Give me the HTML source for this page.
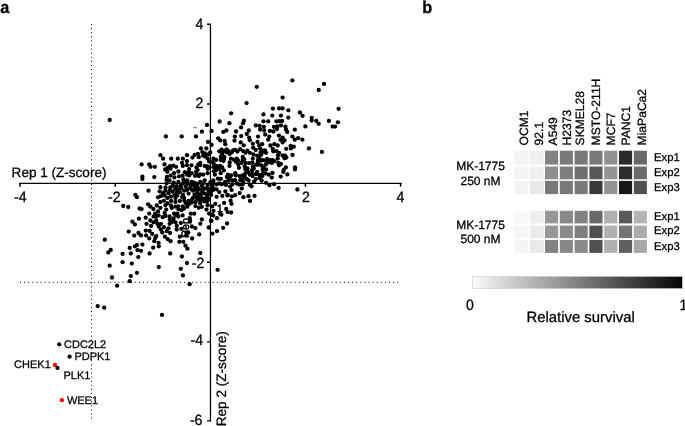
<!DOCTYPE html>
<html><head><meta charset="utf-8"><title>figure</title>
<style>
html,body{margin:0;padding:0;background:#fff;}
svg{display:block;font-family:"Liberation Sans",sans-serif;text-rendering:geometricPrecision;will-change:transform;}
text{stroke:#000;stroke-width:0.28px;}
text.hb{stroke-width:0.55px;}
</style></head><body>
<svg width="685" height="426" viewBox="0 0 685 426">
<rect width="685" height="426" fill="#fff"/>
<text transform="translate(0.3,13.2) scale(1,1.05)" font-size="16.3" font-weight="bold">a</text>
<text transform="translate(422.3,13.1) scale(1,1.05)" font-size="16.3" font-weight="bold">b</text>
<!-- dotted guides -->
<g stroke="#000" stroke-width="1" stroke-dasharray="1 3.1" fill="none">
<line x1="91.5" y1="24" x2="91.5" y2="420"/>
<line x1="20" y1="282.3" x2="400" y2="282.3"/>
</g>
<!-- axes -->
<g stroke="#000" stroke-width="1.25" fill="none">
<line x1="19.1" y1="183.4" x2="401.6" y2="183.4"/>
<line x1="210.45" y1="23.7" x2="210.45" y2="421.5"/>
<path stroke-width="1.5" d="M20 183v3.8M115.2 183v3.8M305.4 183v3.8M400.6 183v3.8"/>
<path stroke-width="1.4" d="M207.1 24.3h3.5M207.1 104h3.5M207.1 262.3h3.5M207.1 341.9h3.5M207.1 420.9h3.5"/>
</g>
<g font-size="10.8" fill="#000">
<text class="hb" x="216.8" y="211.8">1</text>
<text class="hb" transform="translate(189.4,237.8) rotate(-90)">Rep</text>
</g>
<line x1="193.3" y1="127.7" x2="196.6" y2="127.7" stroke="#333" stroke-width="0.8"/>
<g font-size="14.2">
<text transform="translate(20.3,202.1) scale(1,1.05)" text-anchor="middle">-4</text><text transform="translate(114.4,202.1) scale(1,1.05)" text-anchor="middle">-2</text><text transform="translate(305.9,202.1) scale(1,1.05)" text-anchor="middle">2</text><text transform="translate(400.5,202.1) scale(1,1.05)" text-anchor="middle">4</text>
<text transform="translate(203.3,28.8) scale(1,1.05)" text-anchor="end">4</text><text transform="translate(203.3,107.8) scale(1,1.05)" text-anchor="end">2</text><text transform="translate(204.3,267.5) scale(1,1.05)" text-anchor="end">-2</text><text transform="translate(203.1,344.5) scale(1,1.05)" text-anchor="end">-4</text><text transform="translate(202.5,424.8) scale(1,1.05)" text-anchor="end">-6</text>
</g>
<text x="11.6" y="177.2" font-size="13.55">Rep 1 (Z-score)</text>
<text transform="translate(225.8,426.3) rotate(-90)" font-size="13.6">Rep 2 (Z-score)</text>
<g fill="#000"><circle cx="292.4" cy="80.4" r="2.15"/><circle cx="324.0" cy="83.9" r="2.15"/><circle cx="318.7" cy="90.0" r="2.15"/><circle cx="256.8" cy="86.8" r="2.15"/><circle cx="282.6" cy="97.6" r="2.15"/><circle cx="246.6" cy="103.1" r="2.15"/><circle cx="338.6" cy="108.8" r="2.15"/><circle cx="272.9" cy="108.6" r="2.15"/><circle cx="279.1" cy="108.4" r="2.15"/><circle cx="282.6" cy="108.4" r="2.15"/><circle cx="288.3" cy="110.3" r="2.15"/><circle cx="299.9" cy="112.5" r="2.15"/><circle cx="231.1" cy="113.3" r="2.15"/><circle cx="263.5" cy="114.4" r="2.15"/><circle cx="272.3" cy="115.6" r="2.15"/><circle cx="280.9" cy="115.6" r="2.15"/><circle cx="302.6" cy="115.8" r="2.15"/><circle cx="288.3" cy="117.6" r="2.15"/><circle cx="311.8" cy="117.8" r="2.15"/><circle cx="311.6" cy="120.5" r="2.15"/><circle cx="316.3" cy="120.9" r="2.15"/><circle cx="318.7" cy="123.8" r="2.15"/><circle cx="328.9" cy="120.9" r="2.15"/><circle cx="337.9" cy="122.3" r="2.15"/><circle cx="332.6" cy="126.6" r="2.15"/><circle cx="335.1" cy="126.6" r="2.15"/><circle cx="219.6" cy="121.5" r="2.15"/><circle cx="229.4" cy="123.2" r="2.15"/><circle cx="243.9" cy="120.7" r="2.15"/><circle cx="243.1" cy="123.2" r="2.15"/><circle cx="263.5" cy="121.3" r="2.15"/><circle cx="268.2" cy="121.3" r="2.15"/><circle cx="282.1" cy="120.9" r="2.15"/><circle cx="255.8" cy="125.4" r="2.15"/><circle cx="259.7" cy="125.8" r="2.15"/><circle cx="263.8" cy="126.8" r="2.15"/><circle cx="274.0" cy="126.8" r="2.15"/><circle cx="277.4" cy="126.4" r="2.15"/><circle cx="280.9" cy="125.4" r="2.15"/><circle cx="285.4" cy="126.6" r="2.15"/><circle cx="241.1" cy="127.4" r="2.15"/><circle cx="305.4" cy="126.4" r="2.15"/><circle cx="211.6" cy="130.9" r="2.15"/><circle cx="226.4" cy="130.5" r="2.15"/><circle cx="223.3" cy="131.9" r="2.15"/><circle cx="236.0" cy="131.5" r="2.15"/><circle cx="248.8" cy="130.5" r="2.15"/><circle cx="260.1" cy="129.5" r="2.15"/><circle cx="264.2" cy="130.5" r="2.15"/><circle cx="269.9" cy="130.9" r="2.15"/><circle cx="273.4" cy="131.5" r="2.15"/><circle cx="277.0" cy="129.1" r="2.15"/><circle cx="286.0" cy="129.5" r="2.15"/><circle cx="287.3" cy="131.9" r="2.15"/><circle cx="294.8" cy="129.7" r="2.15"/><circle cx="246.8" cy="134.0" r="2.15"/><circle cx="234.9" cy="136.6" r="2.15"/><circle cx="249.2" cy="137.7" r="2.15"/><circle cx="258.0" cy="136.6" r="2.15"/><circle cx="265.2" cy="134.6" r="2.15"/><circle cx="269.3" cy="136.6" r="2.15"/><circle cx="278.9" cy="135.6" r="2.15"/><circle cx="282.6" cy="137.7" r="2.15"/><circle cx="292.4" cy="136.6" r="2.15"/><circle cx="218.2" cy="138.3" r="2.15"/><circle cx="220.2" cy="140.3" r="2.15"/><circle cx="224.7" cy="140.9" r="2.15"/><circle cx="234.5" cy="140.7" r="2.15"/><circle cx="240.7" cy="142.4" r="2.15"/><circle cx="249.9" cy="140.3" r="2.15"/><circle cx="252.9" cy="143.8" r="2.15"/><circle cx="268.2" cy="139.7" r="2.15"/><circle cx="280.5" cy="139.7" r="2.15"/><circle cx="284.6" cy="140.3" r="2.15"/><circle cx="282.6" cy="142.4" r="2.15"/><circle cx="294.8" cy="139.7" r="2.15"/><circle cx="302.4" cy="139.7" r="2.15"/><circle cx="225.3" cy="144.2" r="2.15"/><circle cx="243.7" cy="145.4" r="2.15"/><circle cx="262.1" cy="144.2" r="2.15"/><circle cx="259.1" cy="145.4" r="2.15"/><circle cx="274.4" cy="144.2" r="2.15"/><circle cx="211.6" cy="144.8" r="2.15"/><circle cx="321.9" cy="151.9" r="2.15"/><circle cx="308.9" cy="148.4" r="2.15"/><circle cx="292.5" cy="154.9" r="2.15"/><circle cx="295.0" cy="167.4" r="2.15"/><circle cx="295.0" cy="169.4" r="2.15"/><circle cx="286.2" cy="148.8" r="2.15"/><circle cx="287.4" cy="174.4" r="2.15"/><circle cx="297.4" cy="189.5" r="2.15"/><circle cx="278.6" cy="187.8" r="2.15"/><circle cx="274.1" cy="184.2" r="2.15"/><circle cx="269.4" cy="185.2" r="2.15"/><circle cx="280.7" cy="176.6" r="2.15"/><circle cx="283.3" cy="171.9" r="2.15"/><circle cx="285.8" cy="167.4" r="2.15"/><circle cx="283.7" cy="169.9" r="2.15"/><circle cx="272.5" cy="172.9" r="2.15"/><circle cx="254.5" cy="195.8" r="2.15"/><circle cx="250.0" cy="200.9" r="2.15"/><circle cx="109.7" cy="120.0" r="2.15"/><circle cx="165.9" cy="136.4" r="2.15"/><circle cx="181.7" cy="136.4" r="2.15"/><circle cx="196.0" cy="136.4" r="2.15"/><circle cx="201.9" cy="131.7" r="2.15"/><circle cx="207.0" cy="124.9" r="2.15"/><circle cx="208.0" cy="141.9" r="2.15"/><circle cx="200.9" cy="148.4" r="2.15"/><circle cx="206.4" cy="148.4" r="2.15"/><circle cx="160.4" cy="155.2" r="2.15"/><circle cx="163.1" cy="158.7" r="2.15"/><circle cx="171.2" cy="158.7" r="2.15"/><circle cx="177.8" cy="158.7" r="2.15"/><circle cx="182.9" cy="158.7" r="2.15"/><circle cx="187.0" cy="155.2" r="2.15"/><circle cx="194.7" cy="154.8" r="2.15"/><circle cx="202.3" cy="152.1" r="2.15"/><circle cx="141.6" cy="164.4" r="2.15"/><circle cx="149.2" cy="164.4" r="2.15"/><circle cx="150.6" cy="166.8" r="2.15"/><circle cx="154.9" cy="166.8" r="2.15"/><circle cx="164.5" cy="164.4" r="2.15"/><circle cx="165.1" cy="169.5" r="2.15"/><circle cx="142.4" cy="176.6" r="2.15"/><circle cx="142.4" cy="179.1" r="2.15"/><circle cx="154.3" cy="177.1" r="2.15"/><circle cx="176.1" cy="166.8" r="2.15"/><circle cx="178.4" cy="171.5" r="2.15"/><circle cx="170.6" cy="175.6" r="2.15"/><circle cx="104.8" cy="239.7" r="2.15"/><circle cx="108.3" cy="252.4" r="2.15"/><circle cx="110.7" cy="249.9" r="2.15"/><circle cx="109.7" cy="265.7" r="2.15"/><circle cx="122.6" cy="253.8" r="2.15"/><circle cx="122.6" cy="262.2" r="2.15"/><circle cx="131.8" cy="263.6" r="2.15"/><circle cx="130.8" cy="253.4" r="2.15"/><circle cx="129.7" cy="247.9" r="2.15"/><circle cx="128.7" cy="231.6" r="2.15"/><circle cx="134.2" cy="235.6" r="2.15"/><circle cx="132.4" cy="221.7" r="2.15"/><circle cx="134.9" cy="224.4" r="2.15"/><circle cx="123.2" cy="206.0" r="2.15"/><circle cx="128.3" cy="207.0" r="2.15"/><circle cx="135.3" cy="194.8" r="2.15"/><circle cx="136.9" cy="197.2" r="2.15"/><circle cx="148.5" cy="190.7" r="2.15"/><circle cx="139.6" cy="208.5" r="2.15"/><circle cx="141.6" cy="209.1" r="2.15"/><circle cx="138.9" cy="218.7" r="2.15"/><circle cx="138.5" cy="233.0" r="2.15"/><circle cx="141.0" cy="235.4" r="2.15"/><circle cx="146.1" cy="235.4" r="2.15"/><circle cx="142.4" cy="244.6" r="2.15"/><circle cx="136.9" cy="245.2" r="2.15"/><circle cx="134.9" cy="246.3" r="2.15"/><circle cx="141.0" cy="250.8" r="2.15"/><circle cx="138.3" cy="257.1" r="2.15"/><circle cx="149.6" cy="253.4" r="2.15"/><circle cx="153.2" cy="247.7" r="2.15"/><circle cx="158.8" cy="246.3" r="2.15"/><circle cx="158.8" cy="267.1" r="2.15"/><circle cx="170.2" cy="253.4" r="2.15"/><circle cx="181.9" cy="256.5" r="2.15"/><circle cx="180.8" cy="268.8" r="2.15"/><circle cx="187.0" cy="263.0" r="2.15"/><circle cx="200.3" cy="253.0" r="2.15"/><circle cx="187.4" cy="248.7" r="2.15"/><circle cx="185.5" cy="245.7" r="2.15"/><circle cx="183.3" cy="241.8" r="2.15"/><circle cx="179.4" cy="241.8" r="2.15"/><circle cx="179.8" cy="236.7" r="2.15"/><circle cx="170.6" cy="241.2" r="2.15"/><circle cx="167.6" cy="239.1" r="2.15"/><circle cx="164.9" cy="236.7" r="2.15"/><circle cx="154.3" cy="241.2" r="2.15"/><circle cx="155.3" cy="238.1" r="2.15"/><circle cx="156.3" cy="236.1" r="2.15"/><circle cx="152.2" cy="234.0" r="2.15"/><circle cx="149.6" cy="230.9" r="2.15"/><circle cx="146.5" cy="223.8" r="2.15"/><circle cx="145.7" cy="217.7" r="2.15"/><circle cx="217.6" cy="269.8" r="2.15"/><circle cx="212.5" cy="233.6" r="2.15"/><circle cx="199.2" cy="234.4" r="2.15"/><circle cx="192.1" cy="238.5" r="2.15"/><circle cx="136.9" cy="272.8" r="2.15"/><circle cx="248.5" cy="196.2" r="2.15"/><circle cx="243.4" cy="197.2" r="2.15"/><circle cx="239.7" cy="193.1" r="2.15"/><circle cx="235.2" cy="195.2" r="2.15"/><circle cx="211.1" cy="220.7" r="2.15"/><circle cx="208.7" cy="227.5" r="2.15"/><circle cx="209.1" cy="213.6" r="2.15"/><circle cx="212.2" cy="214.6" r="2.15"/><circle cx="207.0" cy="201.7" r="2.15"/><circle cx="211.1" cy="194.8" r="2.15"/><circle cx="227.5" cy="194.8" r="2.15"/><circle cx="231.6" cy="190.1" r="2.15"/><circle cx="225.4" cy="191.5" r="2.15"/><circle cx="219.3" cy="192.1" r="2.15"/><circle cx="241.8" cy="188.6" r="2.15"/><circle cx="207.0" cy="196.2" r="2.15"/><circle cx="182.9" cy="275.4" r="2.15"/><circle cx="189.6" cy="284.2" r="2.15"/><circle cx="112.0" cy="277.5" r="2.15"/><circle cx="117.1" cy="285.7" r="2.15"/><circle cx="130.8" cy="276.1" r="2.15"/><circle cx="129.7" cy="281.2" r="2.15"/><circle cx="97.7" cy="306.1" r="2.15"/><circle cx="104.2" cy="307.7" r="2.15"/><circle cx="162.0" cy="314.9" r="2.15"/><circle cx="182.0" cy="162.8" r="2.15"/><circle cx="186.9" cy="161.1" r="2.15"/><circle cx="186.9" cy="165.2" r="2.15"/><circle cx="174.4" cy="177.4" r="2.15"/><circle cx="179.1" cy="176.3" r="2.15"/><circle cx="182.6" cy="175.7" r="2.15"/><circle cx="166.6" cy="183.3" r="2.15"/><circle cx="165.6" cy="187.4" r="2.15"/><circle cx="170.3" cy="187.4" r="2.15"/><circle cx="173.8" cy="182.7" r="2.15"/><circle cx="176.7" cy="186.2" r="2.15"/><circle cx="163.1" cy="193.2" r="2.15"/><circle cx="158.0" cy="197.3" r="2.15"/><circle cx="168.5" cy="193.2" r="2.15"/><circle cx="170.9" cy="196.7" r="2.15"/><circle cx="167.4" cy="197.9" r="2.15"/><circle cx="172.6" cy="191.5" r="2.15"/><circle cx="148.1" cy="204.3" r="2.15"/><circle cx="150.4" cy="206.7" r="2.15"/><circle cx="153.4" cy="209.0" r="2.15"/><circle cx="156.9" cy="205.5" r="2.15"/><circle cx="160.4" cy="202.0" r="2.15"/><circle cx="163.9" cy="200.8" r="2.15"/><circle cx="166.2" cy="209.6" r="2.15"/><circle cx="160.4" cy="207.8" r="2.15"/><circle cx="158.0" cy="211.4" r="2.15"/><circle cx="155.1" cy="213.7" r="2.15"/><circle cx="158.6" cy="215.4" r="2.15"/><circle cx="162.7" cy="217.2" r="2.15"/><circle cx="165.6" cy="216.0" r="2.15"/><circle cx="150.4" cy="220.5" r="2.15"/><circle cx="151.0" cy="225.9" r="2.15"/><circle cx="156.3" cy="220.7" r="2.15"/><circle cx="157.4" cy="223.6" r="2.15"/><circle cx="158.6" cy="226.5" r="2.15"/><circle cx="163.9" cy="227.1" r="2.15"/><circle cx="160.9" cy="229.5" r="2.15"/><circle cx="168.5" cy="228.3" r="2.15"/><circle cx="145.8" cy="230.6" r="2.15"/><circle cx="158.6" cy="242.9" r="2.15"/><circle cx="170.1" cy="233.0" r="2.15"/><circle cx="176.7" cy="225.9" r="2.15"/><circle cx="176.7" cy="229.5" r="2.15"/><circle cx="180.8" cy="223.0" r="2.15"/><circle cx="181.4" cy="228.9" r="2.15"/><circle cx="186.6" cy="232.4" r="2.15"/><circle cx="195.4" cy="228.1" r="2.15"/><circle cx="191.9" cy="226.5" r="2.15"/><circle cx="201.8" cy="219.5" r="2.15"/><circle cx="182.6" cy="215.4" r="2.15"/><circle cx="190.7" cy="213.7" r="2.15"/><circle cx="194.2" cy="213.7" r="2.15"/><circle cx="195.4" cy="206.1" r="2.15"/><circle cx="200.1" cy="203.2" r="2.15"/><circle cx="206.5" cy="209.6" r="2.15"/><circle cx="187.2" cy="206.7" r="2.15"/><circle cx="181.4" cy="210.2" r="2.15"/><circle cx="175.5" cy="206.7" r="2.15"/><circle cx="170.9" cy="205.5" r="2.15"/><circle cx="167.4" cy="203.2" r="2.15"/><circle cx="279.1" cy="121.2" r="2.15"/><circle cx="241.2" cy="136.1" r="2.15"/><circle cx="298.1" cy="138.2" r="2.15"/><circle cx="270.4" cy="145.5" r="2.15"/><circle cx="277.7" cy="145.5" r="2.15"/><circle cx="290.8" cy="148.4" r="2.15"/><circle cx="219.3" cy="151.3" r="2.15"/><circle cx="222.2" cy="154.2" r="2.15"/><circle cx="235.3" cy="149.9" r="2.15"/><circle cx="245.5" cy="152.8" r="2.15"/><circle cx="249.9" cy="152.8" r="2.15"/><circle cx="255.8" cy="149.9" r="2.15"/><circle cx="260.1" cy="148.4" r="2.15"/><circle cx="266.0" cy="152.8" r="2.15"/><circle cx="273.3" cy="151.3" r="2.15"/><circle cx="279.1" cy="152.8" r="2.15"/><circle cx="213.4" cy="158.6" r="2.15"/><circle cx="220.7" cy="160.1" r="2.15"/><circle cx="230.9" cy="158.6" r="2.15"/><circle cx="236.8" cy="158.6" r="2.15"/><circle cx="242.6" cy="160.1" r="2.15"/><circle cx="252.8" cy="158.6" r="2.15"/><circle cx="257.2" cy="155.7" r="2.15"/><circle cx="263.1" cy="160.1" r="2.15"/><circle cx="270.4" cy="160.1" r="2.15"/><circle cx="277.7" cy="158.6" r="2.15"/><circle cx="285.0" cy="155.7" r="2.15"/><circle cx="216.4" cy="165.9" r="2.15"/><circle cx="222.2" cy="167.4" r="2.15"/><circle cx="229.5" cy="165.9" r="2.15"/><circle cx="238.2" cy="164.5" r="2.15"/><circle cx="245.5" cy="163.0" r="2.15"/><circle cx="252.8" cy="166.5" r="2.15"/><circle cx="258.7" cy="164.5" r="2.15"/><circle cx="263.1" cy="167.4" r="2.15"/><circle cx="266.0" cy="169.4" r="2.15"/><circle cx="271.8" cy="163.0" r="2.15"/><circle cx="279.1" cy="165.3" r="2.15"/><circle cx="214.9" cy="174.7" r="2.15"/><circle cx="220.7" cy="173.2" r="2.15"/><circle cx="228.0" cy="174.7" r="2.15"/><circle cx="235.3" cy="173.2" r="2.15"/><circle cx="239.7" cy="176.1" r="2.15"/><circle cx="245.5" cy="173.2" r="2.15"/><circle cx="249.9" cy="174.7" r="2.15"/><circle cx="257.2" cy="171.8" r="2.15"/><circle cx="263.1" cy="173.2" r="2.15"/><circle cx="268.9" cy="174.7" r="2.15"/><circle cx="271.8" cy="177.6" r="2.15"/><circle cx="213.4" cy="180.5" r="2.15"/><circle cx="219.3" cy="183.4" r="2.15"/><circle cx="225.1" cy="182.0" r="2.15"/><circle cx="232.4" cy="180.5" r="2.15"/><circle cx="236.8" cy="183.4" r="2.15"/><circle cx="242.6" cy="179.1" r="2.15"/><circle cx="248.5" cy="180.5" r="2.15"/><circle cx="255.8" cy="179.1" r="2.15"/><circle cx="261.6" cy="180.5" r="2.15"/><circle cx="266.0" cy="182.8" r="2.15"/><circle cx="216.4" cy="189.3" r="2.15"/><circle cx="198.8" cy="157.2" r="2.15"/><circle cx="203.2" cy="155.7" r="2.15"/><circle cx="207.6" cy="158.6" r="2.15"/><circle cx="209.1" cy="161.5" r="2.15"/><circle cx="182.8" cy="165.9" r="2.15"/><circle cx="191.5" cy="165.3" r="2.15"/><circle cx="196.5" cy="167.4" r="2.15"/><circle cx="200.3" cy="163.0" r="2.15"/><circle cx="204.7" cy="165.9" r="2.15"/><circle cx="207.6" cy="168.8" r="2.15"/><circle cx="174.0" cy="173.2" r="2.15"/><circle cx="187.2" cy="174.7" r="2.15"/><circle cx="191.5" cy="173.2" r="2.15"/><circle cx="195.9" cy="171.8" r="2.15"/><circle cx="198.8" cy="176.1" r="2.15"/><circle cx="203.2" cy="174.7" r="2.15"/><circle cx="207.6" cy="173.2" r="2.15"/><circle cx="169.6" cy="180.5" r="2.15"/><circle cx="178.4" cy="182.0" r="2.15"/><circle cx="182.8" cy="183.4" r="2.15"/><circle cx="187.2" cy="180.5" r="2.15"/><circle cx="191.5" cy="182.0" r="2.15"/><circle cx="195.9" cy="183.4" r="2.15"/><circle cx="200.3" cy="182.0" r="2.15"/><circle cx="204.7" cy="180.5" r="2.15"/><circle cx="185.7" cy="186.4" r="2.15"/><circle cx="190.1" cy="187.8" r="2.15"/><circle cx="207.6" cy="184.9" r="2.15"/><circle cx="165.3" cy="190.7" r="2.15"/><circle cx="179.9" cy="192.2" r="2.15"/><circle cx="184.2" cy="190.7" r="2.15"/><circle cx="188.6" cy="193.6" r="2.15"/><circle cx="193.0" cy="190.7" r="2.15"/><circle cx="197.4" cy="192.2" r="2.15"/><circle cx="201.8" cy="189.3" r="2.15"/><circle cx="204.7" cy="193.6" r="2.15"/><circle cx="208.5" cy="190.7" r="2.15"/><circle cx="171.1" cy="200.9" r="2.15"/><circle cx="175.5" cy="198.0" r="2.15"/><circle cx="179.9" cy="200.9" r="2.15"/><circle cx="184.2" cy="198.0" r="2.15"/><circle cx="188.6" cy="200.9" r="2.15"/><circle cx="193.0" cy="198.0" r="2.15"/><circle cx="197.4" cy="199.5" r="2.15"/><circle cx="201.8" cy="198.0" r="2.15"/><circle cx="165.3" cy="205.3" r="2.15"/><circle cx="201.8" cy="206.8" r="2.15"/><circle cx="207.6" cy="205.3" r="2.15"/><circle cx="201.8" cy="185.8" r="2.15"/><circle cx="216.4" cy="184.4" r="2.15"/><circle cx="232.4" cy="184.4" r="2.15"/><circle cx="242.6" cy="184.4" r="2.15"/><circle cx="194.5" cy="194.6" r="2.15"/><circle cx="175.5" cy="201.9" r="2.15"/><circle cx="178.4" cy="209.2" r="2.15"/><circle cx="182.8" cy="206.3" r="2.15"/><circle cx="198.8" cy="207.7" r="2.15"/><circle cx="149.2" cy="213.6" r="2.15"/><circle cx="153.6" cy="216.5" r="2.15"/><circle cx="169.6" cy="216.5" r="2.15"/><circle cx="174.0" cy="213.6" r="2.15"/><circle cx="178.4" cy="216.5" r="2.15"/><circle cx="153.6" cy="222.3" r="2.15"/><circle cx="160.9" cy="223.8" r="2.15"/><circle cx="169.6" cy="223.8" r="2.15"/><circle cx="175.5" cy="222.3" r="2.15"/><circle cx="190.1" cy="220.9" r="2.15"/><circle cx="200.3" cy="223.8" r="2.15"/><circle cx="162.3" cy="232.6" r="2.15"/><circle cx="166.7" cy="231.1" r="2.15"/><circle cx="149.2" cy="238.4" r="2.15"/><circle cx="137.5" cy="250.1" r="2.15"/><circle cx="166.9" cy="176.9" r="2.15"/><circle cx="190.6" cy="184.8" r="2.15"/><circle cx="156.2" cy="216.7" r="2.15"/><circle cx="221.9" cy="184.2" r="2.15"/><circle cx="213.8" cy="171.3" r="2.15"/><circle cx="183.4" cy="179.5" r="2.15"/><circle cx="192.4" cy="157.6" r="2.15"/><circle cx="170.0" cy="166.1" r="2.15"/><circle cx="223.9" cy="170.4" r="2.15"/><circle cx="170.6" cy="168.7" r="2.15"/><circle cx="173.5" cy="218.4" r="2.15"/><circle cx="210.7" cy="192.2" r="2.15"/><circle cx="183.8" cy="208.7" r="2.15"/><circle cx="213.0" cy="187.9" r="2.15"/><circle cx="177.3" cy="213.6" r="2.15"/><circle cx="171.8" cy="208.0" r="2.15"/><circle cx="213.9" cy="167.3" r="2.15"/><circle cx="174.5" cy="194.9" r="2.15"/><circle cx="189.1" cy="169.1" r="2.15"/><circle cx="219.3" cy="169.3" r="2.15"/><circle cx="169.7" cy="190.5" r="2.15"/><circle cx="212.6" cy="162.1" r="2.15"/><circle cx="167.4" cy="171.8" r="2.15"/><circle cx="166.6" cy="179.7" r="2.15"/><circle cx="208.3" cy="193.6" r="2.15"/><circle cx="178.3" cy="206.3" r="2.15"/><circle cx="208.4" cy="154.4" r="2.15"/><circle cx="173.3" cy="165.7" r="2.15"/><circle cx="184.3" cy="200.8" r="2.15"/><circle cx="210.4" cy="182.1" r="2.15"/><circle cx="203.2" cy="183.3" r="2.15"/><circle cx="191.6" cy="202.6" r="2.15"/><circle cx="195.1" cy="175.8" r="2.15"/><circle cx="164.7" cy="213.0" r="2.15"/><circle cx="184.9" cy="172.2" r="2.15"/><circle cx="204.8" cy="153.5" r="2.15"/><circle cx="197.9" cy="154.0" r="2.15"/><circle cx="167.7" cy="167.9" r="2.15"/><circle cx="218.0" cy="178.7" r="2.15"/><circle cx="253.1" cy="147.8" r="2.15"/><circle cx="228.4" cy="151.1" r="2.15"/><circle cx="258.0" cy="159.7" r="2.15"/><circle cx="224.2" cy="151.0" r="2.15"/><circle cx="249.1" cy="163.2" r="2.15"/><circle cx="259.2" cy="175.0" r="2.15"/><circle cx="230.1" cy="186.6" r="2.15"/><circle cx="231.8" cy="152.3" r="2.15"/><circle cx="252.0" cy="170.2" r="2.15"/><circle cx="224.0" cy="158.9" r="2.15"/><circle cx="257.5" cy="141.9" r="2.15"/><circle cx="235.9" cy="161.7" r="2.15"/><circle cx="260.6" cy="152.6" r="2.15"/><circle cx="254.1" cy="181.6" r="2.15"/><circle cx="228.5" cy="180.7" r="2.15"/><circle cx="251.6" cy="186.3" r="2.15"/><circle cx="267.1" cy="158.9" r="2.15"/><circle cx="240.1" cy="149.2" r="2.15"/><circle cx="229.6" cy="177.5" r="2.15"/><circle cx="242.7" cy="156.9" r="2.15"/><circle cx="253.5" cy="154.5" r="2.15"/><circle cx="247.4" cy="168.3" r="2.15"/><circle cx="268.2" cy="162.4" r="2.15"/><circle cx="204.2" cy="201.3" r="2.15"/><circle cx="178.6" cy="189.3" r="2.15"/><circle cx="204.8" cy="188.5" r="2.15"/><circle cx="183.0" cy="194.8" r="2.15"/><circle cx="193.7" cy="185.2" r="2.15"/><circle cx="208.9" cy="199.0" r="2.15"/><circle cx="177.3" cy="195.4" r="2.15"/><circle cx="195.3" cy="202.2" r="2.15"/><circle cx="200.9" cy="194.3" r="2.15"/><circle cx="188.8" cy="204.3" r="2.15"/><circle cx="187.0" cy="189.9" r="2.15"/><circle cx="160.7" cy="196.2" r="2.15"/><circle cx="197.5" cy="187.3" r="2.15"/><circle cx="172.8" cy="185.8" r="2.15"/><circle cx="198.5" cy="195.6" r="2.15"/><circle cx="159.7" cy="191.3" r="2.15"/><circle cx="205.2" cy="198.8" r="2.15"/><circle cx="181.2" cy="188.1" r="2.15"/><circle cx="160.4" cy="187.2" r="2.15"/><circle cx="175.3" cy="188.8" r="2.15"/><circle cx="186.0" cy="203.3" r="2.15"/><circle cx="200.4" cy="200.4" r="2.15"/><circle cx="177.1" cy="192.2" r="2.15"/><circle cx="164.5" cy="195.5" r="2.15"/><circle cx="180.8" cy="185.4" r="2.15"/><circle cx="195.4" cy="189.3" r="2.15"/><circle cx="214.0" cy="164.2" r="2.15"/><circle cx="286.3" cy="157.5" r="2.15"/><circle cx="191.6" cy="189.5" r="2.15"/><circle cx="200.1" cy="174.4" r="2.15"/><circle cx="256.0" cy="174.0" r="2.15"/><circle cx="226.5" cy="152.3" r="2.15"/><circle cx="226.0" cy="185.0" r="2.15"/><circle cx="239.0" cy="167.8" r="2.15"/><circle cx="221.6" cy="149.7" r="2.15"/><circle cx="233.9" cy="159.7" r="2.15"/><circle cx="278.0" cy="155.2" r="2.15"/><circle cx="290.6" cy="146.0" r="2.15"/><circle cx="231.4" cy="175.3" r="2.15"/><circle cx="223.4" cy="161.1" r="2.15"/><circle cx="191.9" cy="199.7" r="2.15"/><circle cx="240.2" cy="180.1" r="2.15"/><circle cx="261.1" cy="160.5" r="2.15"/><circle cx="198.4" cy="164.3" r="2.15"/><circle cx="200.2" cy="197.0" r="2.15"/><circle cx="217.6" cy="167.6" r="2.15"/><circle cx="272.5" cy="160.2" r="2.15"/><circle cx="229.7" cy="162.5" r="2.15"/><circle cx="224.4" cy="157.1" r="2.15"/><circle cx="252.5" cy="176.0" r="2.15"/><circle cx="220.8" cy="157.0" r="2.15"/><circle cx="259.3" cy="156.9" r="2.15"/><circle cx="252.1" cy="173.5" r="2.15"/><circle cx="276.4" cy="121.3" r="2.15"/><circle cx="220.1" cy="165.8" r="2.15"/><circle cx="189.8" cy="218.2" r="2.15"/><circle cx="184.3" cy="182.2" r="2.15"/><circle cx="238.0" cy="160.5" r="2.15"/><circle cx="265.8" cy="164.6" r="2.15"/><circle cx="197.6" cy="170.1" r="2.15"/><circle cx="216.1" cy="170.3" r="2.15"/><circle cx="212.9" cy="190.2" r="2.15"/><circle cx="253.7" cy="168.5" r="2.15"/><circle cx="249.9" cy="184.7" r="2.15"/><circle cx="246.7" cy="178.9" r="2.15"/><circle cx="226.9" cy="177.0" r="2.15"/><circle cx="282.6" cy="155.5" r="2.15"/><circle cx="210.2" cy="152.5" r="2.15"/><circle cx="265.5" cy="160.7" r="2.15"/><circle cx="216.1" cy="159.9" r="2.15"/><circle cx="247.4" cy="150.7" r="2.15"/><circle cx="245.2" cy="169.0" r="2.15"/><circle cx="293.8" cy="146.7" r="2.15"/><circle cx="207.1" cy="166.3" r="2.15"/><circle cx="278.2" cy="162.9" r="2.15"/><circle cx="262.1" cy="150.4" r="2.15"/><circle cx="226.6" cy="149.3" r="2.15"/><circle cx="229.6" cy="153.9" r="2.15"/><circle cx="169.7" cy="219.8" r="2.15"/><circle cx="233.1" cy="150.3" r="2.15"/><circle cx="259.7" cy="178.0" r="2.15"/><circle cx="263.5" cy="151.7" r="2.15"/><circle cx="207.8" cy="188.5" r="2.15"/><circle cx="193.8" cy="182.7" r="2.15"/><circle cx="209.5" cy="167.2" r="2.15"/><circle cx="261.3" cy="154.7" r="2.15"/><circle cx="272.8" cy="148.8" r="2.15"/><circle cx="262.3" cy="175.9" r="2.15"/><circle cx="188.6" cy="172.4" r="2.15"/><circle cx="182.1" cy="197.1" r="2.15"/><circle cx="196.7" cy="197.1" r="2.15"/><circle cx="284.6" cy="158.3" r="2.15"/><circle cx="205.1" cy="156.4" r="2.15"/><circle cx="274.4" cy="161.1" r="2.15"/><circle cx="176.0" cy="215.3" r="2.15"/><circle cx="198.4" cy="189.5" r="2.15"/><circle cx="212.1" cy="184.6" r="2.15"/><circle cx="187.4" cy="183.7" r="2.15"/><circle cx="257.9" cy="161.6" r="2.15"/><circle cx="212.9" cy="182.5" r="2.15"/><circle cx="252.5" cy="162.5" r="2.15"/><circle cx="237.4" cy="151.6" r="2.15"/><circle cx="265.5" cy="173.5" r="2.15"/><circle cx="197.4" cy="184.5" r="2.15"/><circle cx="189.2" cy="175.4" r="2.15"/><circle cx="248.1" cy="171.8" r="2.15"/><circle cx="261.4" cy="165.3" r="2.15"/><circle cx="235.0" cy="180.2" r="2.15"/><circle cx="244.2" cy="159.2" r="2.15"/><circle cx="171.9" cy="222.1" r="2.15"/><circle cx="202.3" cy="191.5" r="2.15"/><circle cx="243.1" cy="151.1" r="2.15"/><circle cx="242.6" cy="175.3" r="2.15"/><circle cx="241.5" cy="163.0" r="2.15"/><circle cx="244.7" cy="166.3" r="2.15"/><circle cx="262.6" cy="169.8" r="2.15"/><circle cx="280.9" cy="163.9" r="2.15"/><circle cx="200.1" cy="165.2" r="2.15"/><circle cx="276.4" cy="151.1" r="2.15"/><circle cx="243.2" cy="182.0" r="2.15"/><circle cx="220.8" cy="178.9" r="2.15"/><circle cx="239.3" cy="184.7" r="2.15"/><circle cx="196.6" cy="174.4" r="2.15"/><circle cx="215.9" cy="168.4" r="2.15"/><circle cx="235.9" cy="175.4" r="2.15"/><circle cx="256.2" cy="164.8" r="2.15"/><circle cx="173.3" cy="220.7" r="2.15"/><circle cx="221.1" cy="151.8" r="2.15"/><circle cx="265.0" cy="150.4" r="2.15"/><circle cx="244.5" cy="176.1" r="2.15"/><circle cx="195.2" cy="186.8" r="2.15"/><circle cx="215.3" cy="203.8" r="2.15"/><circle cx="216.6" cy="196.8" r="2.15"/><circle cx="222.3" cy="195.9" r="2.15"/><circle cx="227.6" cy="195.4" r="2.15"/><circle cx="231.9" cy="196.3" r="2.15"/><circle cx="224.1" cy="202.9" r="2.15"/><circle cx="230.6" cy="200.7" r="2.15"/><circle cx="231.5" cy="203.8" r="2.15"/><circle cx="226.2" cy="209.0" r="2.15"/><circle cx="227.6" cy="212.1" r="2.15"/><circle cx="231.1" cy="212.5" r="2.15"/><circle cx="220.1" cy="213.8" r="2.15"/><circle cx="221.4" cy="214.7" r="2.15"/><circle cx="213.5" cy="210.8" r="2.15"/><circle cx="213.1" cy="215.6" r="2.15"/><circle cx="217.0" cy="218.2" r="2.15"/><circle cx="211.4" cy="220.8" r="2.15"/><circle cx="227.1" cy="223.5" r="2.15"/><circle cx="223.2" cy="227.8" r="2.15"/><circle cx="217.0" cy="231.1" r="2.15"/><circle cx="212.2" cy="206.4" r="2.15"/><circle cx="188.3" cy="232.6" r="2.15"/><circle cx="186.2" cy="235.6" r="2.15"/></g>
<g fill="#000"><circle cx="59.2" cy="344.3" r="2.15"/><circle cx="69.6" cy="356.7" r="2.15"/><circle cx="57.5" cy="367.9" r="2.15"/></g>
<g fill="#ff0000"><circle cx="55.0" cy="365.0" r="2.15"/><circle cx="61.9" cy="400.2" r="2.15"/></g>
<g font-size="11">
<text x="64" y="348">CDC2L2</text><text x="74.4" y="360">PDPK1</text><text x="50.8" y="367.5" text-anchor="end">CHEK1</text><text x="63.5" y="378.8">PLK1</text><text x="66.9" y="403.6">WEE1</text>
</g>
<!-- heatmap -->
<rect x="514.30" y="150.70" width="14.30" height="13.90" fill="#f4f4f4"/><rect x="530.00" y="150.70" width="13.80" height="13.90" fill="#f0f0f0"/><rect x="545.00" y="150.70" width="13.10" height="13.90" fill="#828282"/><rect x="559.80" y="150.70" width="13.10" height="13.90" fill="#7a7a7a"/><rect x="574.60" y="150.70" width="13.10" height="13.90" fill="#787878"/><rect x="589.40" y="150.70" width="13.10" height="13.90" fill="#7a7a7a"/><rect x="604.20" y="150.70" width="13.10" height="13.90" fill="#909090"/><rect x="619.00" y="150.70" width="13.10" height="13.90" fill="#2a2a2a"/><rect x="633.80" y="150.70" width="13.10" height="13.90" fill="#6a6a6a"/><rect x="514.30" y="166.50" width="14.30" height="12.80" fill="#f4f4f4"/><rect x="530.00" y="166.50" width="13.80" height="12.80" fill="#f0f0f0"/><rect x="545.00" y="166.50" width="13.10" height="12.80" fill="#8e8e8e"/><rect x="559.80" y="166.50" width="13.10" height="12.80" fill="#7e7e7e"/><rect x="574.60" y="166.50" width="13.10" height="12.80" fill="#707070"/><rect x="589.40" y="166.50" width="13.10" height="12.80" fill="#585858"/><rect x="604.20" y="166.50" width="13.10" height="12.80" fill="#949494"/><rect x="619.00" y="166.50" width="13.10" height="12.80" fill="#2c2c2c"/><rect x="633.80" y="166.50" width="13.10" height="12.80" fill="#6c6c6c"/><rect x="514.30" y="180.90" width="14.30" height="13.20" fill="#f3f3f3"/><rect x="530.00" y="180.90" width="13.80" height="13.20" fill="#e8e8e8"/><rect x="545.00" y="180.90" width="13.10" height="13.20" fill="#787878"/><rect x="559.80" y="180.90" width="13.10" height="13.20" fill="#787878"/><rect x="574.60" y="180.90" width="13.10" height="13.20" fill="#7a7a7a"/><rect x="589.40" y="180.90" width="13.10" height="13.20" fill="#3a3a3a"/><rect x="604.20" y="180.90" width="13.10" height="13.20" fill="#949494"/><rect x="619.00" y="180.90" width="13.10" height="13.20" fill="#181818"/><rect x="633.80" y="180.90" width="13.10" height="13.20" fill="#505050"/><rect x="514.30" y="210.80" width="14.30" height="12.60" fill="#f8f8f8"/><rect x="530.00" y="210.80" width="13.80" height="12.60" fill="#eeeeee"/><rect x="545.00" y="210.80" width="13.10" height="12.60" fill="#969696"/><rect x="559.80" y="210.80" width="13.10" height="12.60" fill="#888888"/><rect x="574.60" y="210.80" width="13.10" height="12.60" fill="#828282"/><rect x="589.40" y="210.80" width="13.10" height="12.60" fill="#6a6a6a"/><rect x="604.20" y="210.80" width="13.10" height="12.60" fill="#b0b0b0"/><rect x="619.00" y="210.80" width="13.10" height="12.60" fill="#5a5a5a"/><rect x="633.80" y="210.80" width="13.10" height="12.60" fill="#b4b4b4"/><rect x="514.30" y="225.60" width="14.30" height="12.50" fill="#f6f6f6"/><rect x="530.00" y="225.60" width="13.80" height="12.50" fill="#ebebeb"/><rect x="545.00" y="225.60" width="13.10" height="12.50" fill="#989898"/><rect x="559.80" y="225.60" width="13.10" height="12.50" fill="#8a8a8a"/><rect x="574.60" y="225.60" width="13.10" height="12.50" fill="#808080"/><rect x="589.40" y="225.60" width="13.10" height="12.50" fill="#505050"/><rect x="604.20" y="225.60" width="13.10" height="12.50" fill="#b0b0b0"/><rect x="619.00" y="225.60" width="13.10" height="12.50" fill="#747474"/><rect x="633.80" y="225.60" width="13.10" height="12.50" fill="#acacac"/><rect x="514.30" y="240.00" width="14.30" height="12.90" fill="#f5f5f5"/><rect x="530.00" y="240.00" width="13.80" height="12.90" fill="#e9e9e9"/><rect x="545.00" y="240.00" width="13.10" height="12.90" fill="#828282"/><rect x="559.80" y="240.00" width="13.10" height="12.90" fill="#888888"/><rect x="574.60" y="240.00" width="13.10" height="12.90" fill="#8a8a8a"/><rect x="589.40" y="240.00" width="13.10" height="12.90" fill="#505050"/><rect x="604.20" y="240.00" width="13.10" height="12.90" fill="#b0b0b0"/><rect x="619.00" y="240.00" width="13.10" height="12.90" fill="#606060"/><rect x="633.80" y="240.00" width="13.10" height="12.90" fill="#a8a8a8"/>
<text transform="translate(527.5,145.4) rotate(-90)" font-size="12.1">OCM1</text><text transform="translate(542.5,145.4) rotate(-90)" font-size="12.1">92.1</text><text transform="translate(556.8,145.4) rotate(-90)" font-size="12.1">A549</text><text transform="translate(571.0,145.4) rotate(-90)" font-size="12.1">H2373</text><text transform="translate(584.2,145.4) rotate(-90)" font-size="12.1">SKMEL28</text><text transform="translate(600.1,145.4) rotate(-90)" font-size="12.1">MSTO-211H</text><text transform="translate(614.8,145.4) rotate(-90)" font-size="12.1">MCF7</text><text transform="translate(629.6,145.4) rotate(-90)" font-size="12.1">PANC1</text><text transform="translate(645.6,145.4) rotate(-90)" font-size="12.1">MiaPaCa2</text>
<text x="654" y="161.09" font-size="11.3">Exp1</text><text x="654" y="176.05" font-size="11.3">Exp2</text><text x="654" y="190.94" font-size="11.3">Exp3</text><text x="654" y="220.25" font-size="11.3">Exp1</text><text x="654" y="234.15" font-size="11.3">Exp2</text><text x="654" y="249.89" font-size="11.3">Exp3</text>
<g font-size="12" text-anchor="middle">
<text x="480.5" y="170.4">MK-1775</text><text x="480.5" y="184.6">250 nM</text>
<text x="480.5" y="228.6">MK-1775</text><text x="480.5" y="242.8">500 nM</text>
</g>
<defs><linearGradient id="g" x1="0" x2="1" y1="0" y2="0"><stop offset="0" stop-color="#fbfbfb"/><stop offset="1" stop-color="#050505"/></linearGradient></defs>
<rect x="472.5" y="276.4" width="209.9" height="12.2" fill="url(#g)" stroke="#ccc" stroke-width="0.6"/>
<text transform="translate(469.8,310.2) scale(1,1.07)" font-size="14" text-anchor="middle">0</text>
<text transform="translate(683.5,310.2) scale(1,1.07)" font-size="14" text-anchor="middle">1</text>
<text x="580.6" y="321.8" font-size="14.9" text-anchor="middle">Relative survival</text>
</svg>
</body></html>
